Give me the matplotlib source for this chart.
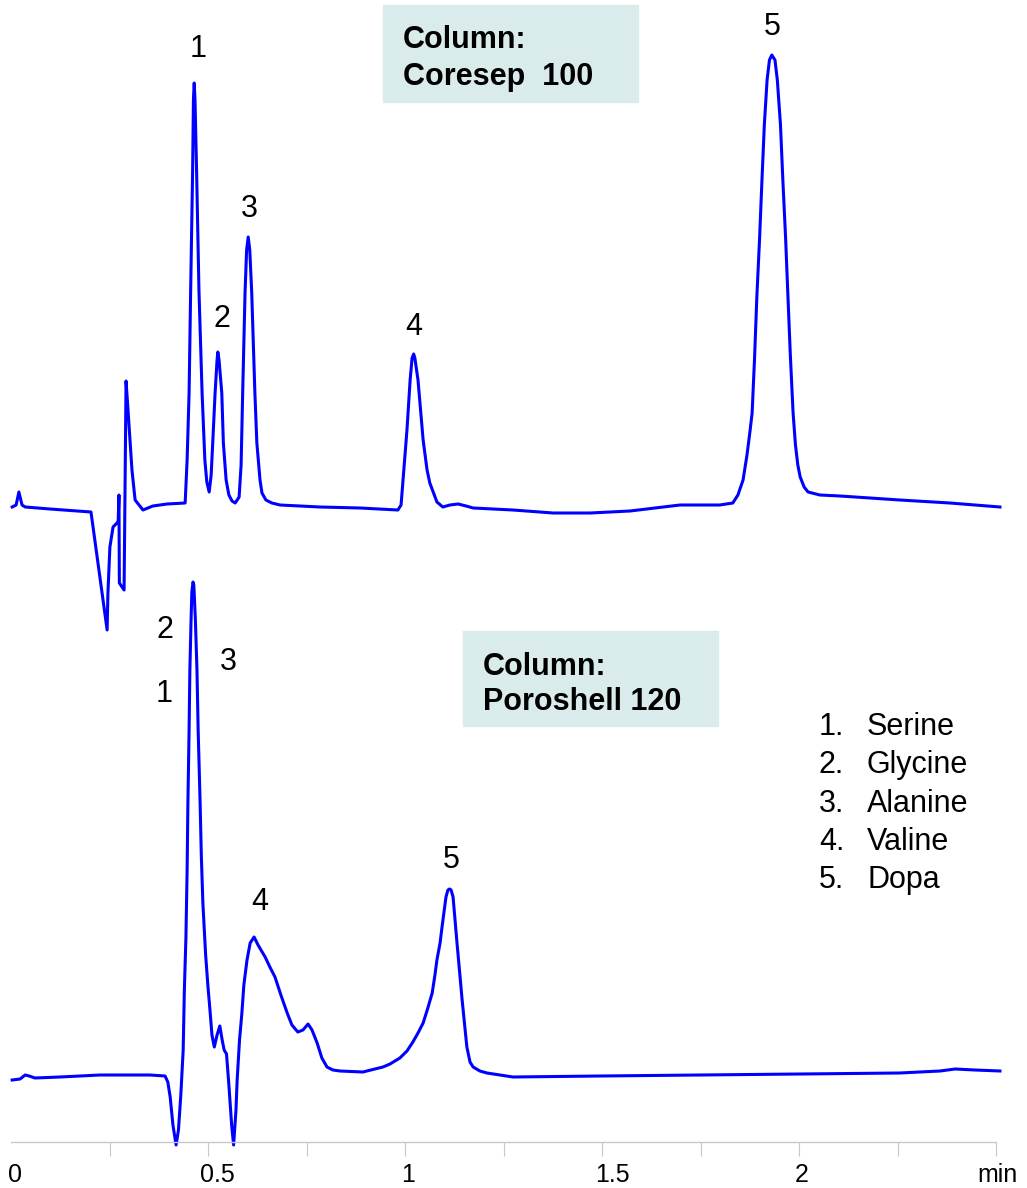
import matplotlib
matplotlib.use('Agg')
import matplotlib.pyplot as plt
from matplotlib.patches import Rectangle
from matplotlib.transforms import ScaledTranslation

plt.rcParams['font.family'] = ['Liberation Sans', 'DejaVu Sans']

# Chromatogram traces: time (min) and signal (arb. units)
coresep_time = [0.003, 0.013, 0.020, 0.028, 0.036, 0.099, 0.203, 0.244, 0.246, 0.251, 0.259, 0.269, 0.272,
                0.274, 0.275, 0.287, 0.292, 0.297, 0.307, 0.315, 0.335, 0.360, 0.396, 0.442,
                0.447, 0.452, 0.456, 0.461, 0.463, 0.465, 0.467, 0.471, 0.477, 0.485, 0.492, 0.497, 0.503,
                0.508, 0.512, 0.518, 0.523, 0.525, 0.528, 0.535, 0.539, 0.546, 0.553, 0.561, 0.569,
                0.579, 0.584, 0.588, 0.594, 0.598, 0.602, 0.606, 0.611, 0.619, 0.624, 0.632, 0.637, 0.647,
                0.662, 0.683, 0.784, 0.886, 0.982,
                0.990, 0.995, 1.005, 1.013, 1.018, 1.022, 1.025, 1.033, 1.046, 1.056, 1.063, 1.081, 1.096,
                1.114, 1.135, 1.155, 1.173, 1.274, 1.376, 1.470, 1.571, 1.698, 1.799,
                1.832, 1.845, 1.858, 1.868, 1.876, 1.881, 1.887, 1.893, 1.900, 1.906, 1.912, 1.919, 1.925,
                1.931, 1.939, 1.945, 1.953, 1.959, 1.966, 1.972, 1.978, 1.985, 1.991, 1.997, 2.003, 2.013,
                2.023, 2.053, 2.104, 2.256, 2.383, 2.510]
coresep_signal = [1, 3, 16, 3, 1, -1, -4, -122, -85, -39, -19, -15, -13,
                  13, -75, -82, 127, 98, 38, 8, -2, 2, 4, 5,
                  48, 115, 218, 338, 408, 425, 408, 338, 218, 115, 48, 26, 16,
                  33, 65, 115, 148, 156, 148, 115, 65, 28, 13, 7, 5,
                  11, 43, 115, 215, 258, 271, 258, 215, 115, 65, 28, 15, 8,
                  5, 3, 1, 0, -2,
                  3, 28, 78, 128, 150, 154, 150, 128, 68, 38, 25, 6, 1,
                  3, 4, 2, 0, -2, -5, -5, -3, 3, 3,
                  5, 13, 28, 53, 78, 95, 148, 211, 270, 328, 383, 428, 448,
                  453, 448, 428, 383, 328, 270, 211, 153, 95, 63, 43, 31, 21,
                  16, 13, 12, 8, 5, 1]

poroshell_time = [0.003, 0.023, 0.036, 0.046, 0.061, 0.124, 0.226, 0.353, 0.391,
                  0.398, 0.404, 0.411, 0.419, 0.425, 0.431, 0.437, 0.440, 0.444, 0.447, 0.449, 0.452,
                  0.454, 0.457, 0.459, 0.462, 0.464, 0.468, 0.472, 0.475, 0.480, 0.483, 0.487, 0.494,
                  0.500, 0.505, 0.510, 0.516, 0.523, 0.530, 0.536, 0.541, 0.547, 0.553, 0.560, 0.565,
                  0.571, 0.574, 0.580, 0.586, 0.591, 0.599, 0.607, 0.617, 0.627, 0.645, 0.657, 0.670,
                  0.685, 0.701, 0.713, 0.728, 0.741, 0.754, 0.764, 0.777, 0.789, 0.802, 0.817, 0.835,
                  0.893, 0.944, 0.962, 0.987, 1.005, 1.020, 1.033, 1.046, 1.058, 1.069, 1.076, 1.081,
                  1.089, 1.094, 1.099, 1.104, 1.109, 1.113, 1.117,
                  1.122, 1.132, 1.145, 1.157, 1.165, 1.173, 1.190, 1.208, 1.274, 1.495, 1.749, 2.003,
                  2.256, 2.358, 2.396, 2.447, 2.510]
poroshell_signal = [-4, -3, 1, 0, -2, -1, 1, 1, 0,
                    -6, -21, -49, -69, -54, -19, 26, 86, 139, 206, 273, 346,
                    406, 456, 484, 494, 491, 456, 406, 346, 273, 221, 173, 121,
                    89, 66, 41, 29, 41, 50, 36, 26, 22, -9, -49, -69,
                    -34, -4, 36, 63, 91, 116, 133, 139, 131, 119, 109, 99,
                    81, 63, 51, 44, 46, 52, 46, 33, 18, 9, 6, 5,
                    4, 9, 12, 18, 25, 34, 43, 53, 68, 83, 101, 116,
                    133, 149, 164, 179, 186, 187, 186,
                    179, 133, 76, 29, 14, 9, 5, 3, -1, 0, 1, 2,
                    3, 5, 7, 6, 5]

trace_offset = 568  # vertical shift of the Coresep trace

tick_values = [0, 0.5, 1, 1.5, 2, 2.5]
tick_labels = ['0', '0.5', '1', '1.5', '2', 'min']
minor_values = [0.25, 0.75, 1.25, 1.75, 2.25]

compounds = ['Serine', 'Glycine', 'Alanine', 'Valine', 'Dopa']

W, H = 1027, 1188
fig = plt.figure(figsize=(W / 100, H / 100), dpi=100)
ax = fig.add_axes([0, 0, 1, 1])
ax.set_facecolor('none')

blue = '#0000ff'
ax.plot(coresep_time, [s + trace_offset for s in coresep_signal], color=blue, lw=2.2,
        solid_joinstyle='round')
ax.plot(poroshell_time, poroshell_signal, color=blue, lw=2.2, solid_joinstyle='round')

ax.set_xlim(-11 / 394, (W - 11) / 394)
ax.set_ylim(1076 - H, 1076)

# only the time axis is shown
for side in ['top', 'left', 'right']:
    ax.spines[side].set_visible(False)
ax.spines['bottom'].set_position(('data', -66))
ax.spines['bottom'].set_bounds(0, 2.5)
ax.spines['bottom'].set_color('#c8c8c8')
ax.spines['bottom'].set_linewidth(1)
ax.set_yticks([])
ax.set_xticks(tick_values)
ax.set_xticklabels(tick_labels, fontsize=18)
ax.set_xticks(minor_values, minor=True)
ax.tick_params(axis='x', which='both', direction='out', length=10, width=0.8, color='#c8c8c8', pad=5)
ax.xaxis.get_major_ticks()[0].tick1line.set_visible(False)
shifts = [4, 9, 3, 10, 3, 1]
for lab, dx in zip(ax.get_xticklabels(), shifts):
    lab.set_transform(lab.get_transform() + ScaledTranslation(dx / 100, 0, fig.dpi_scale_trans))


def fx(x):
    return x / W


def fy(y):
    return 1 - y / H


# column boxes
box_color = '#d9ebeb'
fig.add_artist(Rectangle((fx(383), fy(102)), 255 / W, 97 / H, transform=fig.transFigure,
                         color=box_color, zorder=-1))
fig.add_artist(Rectangle((fx(463), fy(726)), 255 / W, 95 / H, transform=fig.transFigure,
                         color=box_color, zorder=-1))
fig.text(fx(403), fy(48), 'Column:', fontsize=22, fontweight='bold')
fig.text(fx(403), fy(85), 'Coresep  100', fontsize=22, fontweight='bold')
fig.text(fx(483), fy(675), 'Column:', fontsize=22, fontweight='bold')
fig.text(fx(483), fy(710), 'Poroshell 120', fontsize=22, fontweight='bold')

# peak numbers
peak_labels = [('1', 198, 57), ('2', 222, 327), ('3', 249, 217), ('4', 414, 335), ('5', 772, 35),
               ('2', 165, 638), ('1', 164, 702), ('3', 228, 670), ('4', 260, 910), ('5', 451, 868)]
for txt, x, y in peak_labels:
    fig.text(fx(x), fy(y), txt, fontsize=22, ha='center')

# compound list
for i, name in enumerate(compounds):
    y = 735 + i * 38.3
    fig.text(fx(819), fy(y), f'{i + 1}.', fontsize=22)
    fig.text(fx(867), fy(y), name, fontsize=22)

fig.savefig('out.png', dpi=100)
